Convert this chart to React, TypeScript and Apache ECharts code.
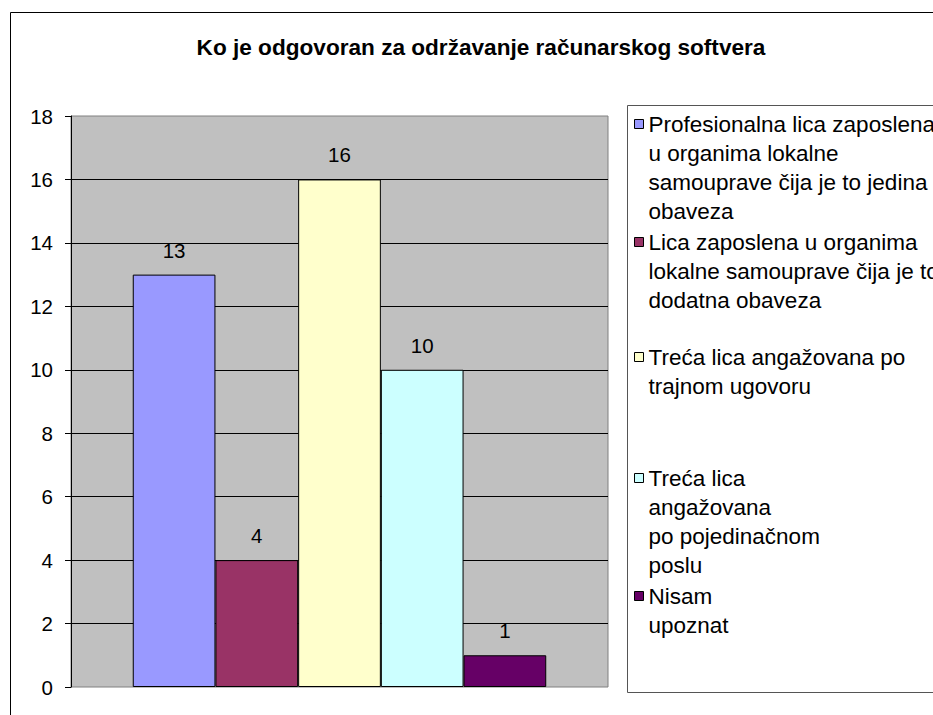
import React, { useEffect, useRef } from "react";
import * as echarts from "echarts";

const chartTitle = "Ko je odgovoran za održavanje računarskog softvera";
const categories = [""];
const seriesNames = [
  "Profesionalna lica zaposlena\nu organima lokalne\nsamouprave čija je to jedina\nobaveza",
  "Lica zaposlena u organima\nlokalne samouprave čija je to\ndodatna obaveza",
  "Treća lica angažovana po\ntrajnom ugovoru",
  "Treća lica\nangažovana\npo pojedinačnom\nposlu",
  "Nisam\nupoznat",
];
const seriesValues = [13, 4, 16, 10, 1];
const seriesColors = ["#9999FF", "#993366", "#FFFFCC", "#CCFFFF", "#660066"];
const yMin = 0;
const yMax = 18;
const yInterval = 2;

const FONT = "'Liberation Sans', Arial, sans-serif";

export default function App() {
  const ref = useRef<HTMLDivElement>(null);

  useEffect(() => {
    document.body.style.margin = "0";
    document.body.style.overflow = "hidden";
    if (!ref.current) return;
    const chart = echarts.init(ref.current, null, { renderer: "svg" });

    const LH = 29;
    const legendFirstLineY = [124, 242, 357, 478, 596];

    const legends = seriesNames.map((name, i) => {
      const n = name.split("\n").length;
      return {
        data: [name],
        orient: "vertical" as const,
        left: 634,
        top: legendFirstLineY[i] - ((2 * n - 1) * LH) / 2,
        padding: 0,
        itemWidth: 9,
        itemHeight: 9,
        icon: "rect",
        selectedMode: false,
        itemStyle: { borderColor: "#000", borderWidth: 1 },
        // leading blank lines keep the marker level with the first text line
        formatter: (nm: string) => "\n".repeat(n - 1) + nm,
        textStyle: {
          fontFamily: FONT,
          fontSize: 22.5,
          color: "#000",
          lineHeight: LH,
          backgroundColor: "rgba(0,0,0,0)",
        },
      };
    });

    chart.setOption({
      animation: false,
      backgroundColor: "#fff",
      title: {
        text: chartTitle,
        left: 481,
        top: 36,
        padding: 0,
        textAlign: "center",
        textStyle: {
          fontFamily: FONT,
          fontSize: 22.6,
          fontWeight: "bold",
          color: "#000",
        },
      },
      graphic: [
        {
          type: "rect",
          silent: true,
          shape: { x: 10.5, y: 12.5, width: 1200, height: 1200 },
          style: { fill: "none", stroke: "#000", lineWidth: 1 },
        },
        {
          type: "rect",
          silent: true,
          shape: { x: 627.5, y: 105.5, width: 400, height: 587 },
          style: { fill: "none", stroke: "#555", lineWidth: 1 },
        },
      ],
      legend: legends,
      grid: {
        left: 71,
        top: 116,
        right: 325,
        bottom: 28,
        show: true,
        backgroundColor: "#C0C0C0",
        borderColor: "#808080",
        borderWidth: 1,
      },
      xAxis: {
        type: "category",
        data: categories,
        axisLine: { show: false },
        axisTick: { show: false },
        axisLabel: { show: false },
        splitLine: { show: false },
      },
      yAxis: {
        type: "value",
        min: yMin,
        max: yMax,
        interval: yInterval,
        axisLine: { show: true, lineStyle: { color: "#000", width: 1 } },
        axisTick: { show: true, length: 6, lineStyle: { color: "#000" } },
        axisLabel: {
          margin: 18,
          fontFamily: FONT,
          fontSize: 20.5,
          color: "#000",
        },
        splitLine: {
          show: true,
          showMinLine: false,
          showMaxLine: false,
          lineStyle: { color: "#000", width: 1 },
        },
      },
      series: seriesNames.map((name, i) => ({
        name,
        type: "bar",
        data: [seriesValues[i]],
        barGap: "0%",
        barCategoryGap: "23%",
        itemStyle: {
          color: seriesColors[i],
          borderColor: "#000",
          borderWidth: 1,
        },
        label: {
          show: true,
          position: "top",
          distance: 14,
          fontFamily: FONT,
          fontSize: 20.5,
          color: "#000",
        },
      })),
    });

    return () => {
      chart.dispose();
    };
  }, []);

  return <div ref={ref} style={{ width: 933, height: 715 }} />;
}
